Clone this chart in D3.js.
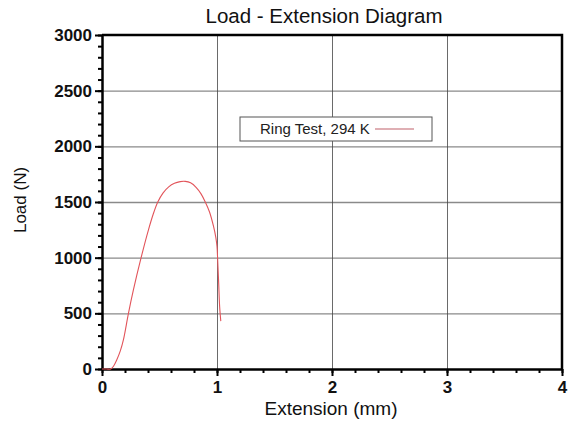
<!DOCTYPE html>
<meta charset="utf-8">
<head>
    <title>Load - Extension Diagram</title>
</head>
<style>
    body { margin: 0; background: #fff; }
    text { font-family: Arial, "Liberation Sans", sans-serif; }
    .tick text { font-weight: bold; font-size: 17px; fill: #111; }
    .grid-h line { stroke: #8a8a8a; stroke-width: 1.3px; }
    .grid-v line { stroke: #444; stroke-width: 0.8px; }
    .grid-h path, .grid-v path { stroke-width: 0; }
</style>
<script src="https://d3js.org/d3.v7.min.js"></script>
<div id="my_viz"></div>
<script>
    // data
    var extension = [0, 0.04, 0.075, 0.1, 0.128, 0.16, 0.186, 0.23, 0.273, 0.34, 0.404, 0.445, 0.485, 0.53, 0.58, 0.63, 0.68, 0.724, 0.77, 0.82, 0.86, 0.898, 0.935, 0.97, 0.99, 1.0, 1.005, 1.01, 1.015, 1.023, 1.033];
    var load      = [0, 0, 0, 25, 81, 165, 261, 500, 710, 1000, 1250, 1390, 1500, 1580, 1636, 1668, 1683, 1685, 1672, 1630, 1575, 1500, 1410, 1280, 1180, 1100, 1000, 880, 760, 560, 430];
    var xTicks = [0, 1, 2, 3, 4];
    var yTicks = [0, 500, 1000, 1500, 2000, 2500, 3000];
    var seriesName = "Ring Test, 294 K";

    var margin = { top: 35, right: 7, bottom: 56, left: 102 },
        width = 569 - margin.left - margin.right,
        height = 425 - margin.top - margin.bottom;

    var svg = d3.select("#my_viz")
        .append("svg")
        .attr("width", 569)
        .attr("height", 425)
        .append("g")
        .attr("transform", "translate(" + margin.left + "," + margin.top + ")");

    var x = d3.scaleLinear().domain([0, 4]).range([0, width]);
    var y = d3.scaleLinear().domain([0, 3000]).range([height, 0]);

    // gridlines
    svg.append("g")
        .attr("class", "grid-h")
        .call(d3.axisLeft(y).tickValues(yTicks.slice(1, -1)).tickSize(-width).tickFormat(""));
    svg.append("g")
        .attr("class", "grid-v")
        .attr("transform", "translate(0," + height + ")")
        .call(d3.axisBottom(x).tickValues(xTicks.slice(1, -1)).tickSize(-height).tickFormat(""));

    // minor ticks
    svg.append("g")
        .attr("transform", "translate(0," + height + ")")
        .call(d3.axisBottom(x).ticks(20).tickSize(4).tickFormat(""))
        .call(g => g.select(".domain").remove())
        .selectAll("line").attr("stroke", "#000").attr("stroke-width", 2);
    svg.append("g")
        .call(d3.axisLeft(y).ticks(30).tickSize(4).tickFormat(""))
        .call(g => g.select(".domain").remove())
        .selectAll("line").attr("stroke", "#000").attr("stroke-width", 2);

    // frame (top and right)
    svg.append("path")
        .attr("d", "M0,0H" + width + "V" + height)
        .attr("fill", "none")
        .attr("stroke", "#000")
        .attr("stroke-width", 2.5);

    // main axes
    var xAxis = svg.append("g")
        .attr("transform", "translate(0," + height + ")")
        .call(d3.axisBottom(x).tickValues(xTicks).tickFormat(d3.format("d"))
            .tickSize(7).tickPadding(5).tickSizeOuter(0));
    var yAxis = svg.append("g")
        .call(d3.axisLeft(y).tickValues(yTicks).tickFormat(d3.format("d"))
            .tickSize(7).tickPadding(3).tickSizeOuter(0));
    [xAxis, yAxis].forEach(function (a) {
        a.select(".domain").attr("stroke", "#000").attr("stroke-width", 2.5);
        a.selectAll(".tick line").attr("stroke", "#000").attr("stroke-width", 2);
    });

    // curve
    var pts = extension.map(function (d, i) { return [d, load[i]]; });
    svg.append("path")
        .datum(pts)
        .attr("fill", "none")
        .attr("stroke", "#e2545a")
        .attr("stroke-width", 1.1)
        .attr("d", d3.line()
            .x(function (d) { return x(d[0]); })
            .y(function (d) { return y(d[1]); })
            .curve(d3.curveCatmullRom.alpha(0.5)));

    // legend
    var legend = svg.append("g").attr("transform", "translate(" + (240 - margin.left) + "," + (117 - margin.top) + ")");
    legend.append("rect")
        .attr("width", 192).attr("height", 24)
        .attr("fill", "#fff").attr("stroke", "#555").attr("stroke-width", 1);
    legend.append("text")
        .attr("x", 20).attr("y", 17)
        .attr("font-size", "15px").attr("fill", "#222")
        .text(seriesName);
    legend.append("line")
        .attr("x1", 135).attr("x2", 174).attr("y1", 12).attr("y2", 12)
        .attr("stroke", "#c0606a").attr("stroke-width", 1.2);

    // title and axis labels
    svg.append("text")
        .attr("x", 324 - margin.left).attr("y", 23 - margin.top)
        .style("text-anchor", "middle")
        .attr("font-size", "20.5px").attr("fill", "#111")
        .text("Load - Extension Diagram");
    svg.append("text")
        .attr("x", 331 - margin.left).attr("y", 415 - margin.top)
        .style("text-anchor", "middle")
        .attr("font-size", "19px").attr("fill", "#111")
        .text("Extension (mm)");
    svg.append("text")
        .attr("transform", "rotate(-90)")
        .attr("x", -(200 - margin.top)).attr("y", 26 - margin.left)
        .style("text-anchor", "middle")
        .attr("font-size", "17px").attr("fill", "#111")
        .text("Load (N)");
</script>
